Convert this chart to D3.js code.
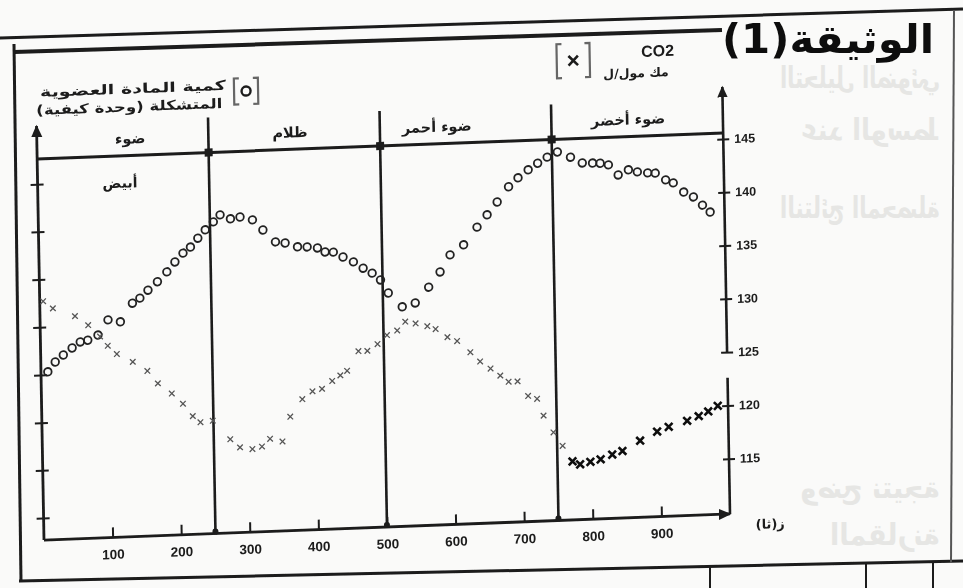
<!DOCTYPE html>
<html>
<head>
<meta charset="utf-8">
<script src="https://cdn.jsdelivr.net/npm/d3@7/dist/d3.min.js"></script>
<style>
  body { margin: 0; background: #fafaf9; }
  svg { display: block; }
</style>
</head>
<body>
<script>
var width = 963, height = 588;

// organic matter [o] : time (s) and amount (arbitrary unit)
var orgTime = [10, 21, 33, 46, 58, 69, 84, 99, 117, 135, 146, 158, 172, 186, 198, 210, 221, 232, 243, 255,
  265, 280, 294, 312, 327, 345, 359, 377, 391, 406, 417, 429, 443, 458, 472, 485, 497, 508, 528, 547,
  567, 584, 599, 619, 639, 654, 669, 686, 700, 715, 729, 743, 758, 777, 794, 809, 820, 832, 846, 861,
  874, 889, 900, 915, 926, 941, 955, 968, 979];
var orgValue = [4.06, 4.26, 4.40, 4.54, 4.66, 4.69, 4.79, 5.10, 5.05, 5.43, 5.53, 5.69, 5.86, 6.06, 6.26, 6.44, 6.56, 6.74, 6.91, 7.07,
  7.21, 7.12, 7.15, 7.08, 6.86, 6.60, 6.57, 6.48, 6.47, 6.44, 6.35, 6.34, 6.23, 6.12, 5.98, 5.87, 5.72, 5.44, 5.14, 5.21,
  5.53, 5.84, 6.19, 6.39, 6.75, 7.00, 7.26, 7.57, 7.75, 7.91, 8.04, 8.16, 8.26, 8.14, 8.01, 8.00, 7.99, 7.95, 7.73, 7.83,
  7.78, 7.75, 7.74, 7.59, 7.52, 7.32, 7.21, 7.03, 6.88];

// CO2 [x] : time (s) and concentration
var co2Time = [5, 19, 51, 70, 87, 98, 111, 134, 155, 170, 190, 206, 220, 231, 249, 274, 288, 306, 320, 332,
  350, 362, 380, 395, 409, 424, 436, 446, 463, 476, 491, 505, 520, 532, 547, 564, 576, 593, 607, 626,
  640, 655, 669, 681, 694, 709, 722, 731, 745, 758, 772, 783, 798, 813, 830, 845, 871, 896, 913, 940,
  957, 971, 985];
var co2Value = [132.2, 131.5, 130.7, 129.8, 128.7, 127.8, 127.0, 126.2, 125.3, 124.1, 123.1, 122.1, 120.9, 120.3, 120.4, 118.6, 117.8, 117.6, 117.8, 118.5,
  118.2, 120.5, 122.1, 122.8, 123.0, 123.7, 124.2, 124.6, 126.4, 126.4, 127.0, 127.8, 128.2, 129.0, 128.8, 128.5, 128.2, 127.4, 127.0, 125.9,
  125.0, 124.3, 123.6, 123.0, 123.0, 121.6, 121.3, 119.7, 118.1, 116.8, 115.3, 115.0, 115.2, 115.4, 115.8, 116.1, 117.0, 117.8, 118.2, 118.7,
  119.1, 119.5, 120.0];

var phaseEdges = [250, 500, 750];
var phaseLabels = ["ضوء", "ظلام", "ضوء أحمر", "ضوء أخضر"];
var phaseLabelTime = [136, 369, 583, 862];
var xTicks = [100, 200, 300, 400, 500, 600, 700, 800, 900];
var co2Ticks = [115, 120, 125, 130, 135, 140, 145];
var orgTicks = [1, 2, 3, 4, 5, 6, 7, 8];

var ink = "#1b1b1b";
var arabic = "'DejaVu Sans', sans-serif";
var latin = "'Liberation Sans', Arial, sans-serif";

var svg = d3.select("body").append("svg")
  .attr("width", width)
  .attr("height", height);

var defs = svg.append("defs");
defs.append("filter").attr("id", "scan")
  .append("feGaussianBlur").attr("stdDeviation", 0.45);

// bleed-through from the other side of the page
var ghost = svg.append("g").attr("fill", "#e6e6e4").attr("font-family", arabic)
  .attr("font-size", 30).attr("font-weight", "bold");
[["التحليل الضوئي", 780, 88], ["عند الوسط", 800, 140], ["النتائج المحصلة", 780, 218],
 ["وضح نتيجة", 800, 498], ["المقارنة", 830, 545]].forEach(function(g) {
  ghost.append("text")
    .attr("transform", "translate(" + g[1] + "," + g[2] + ") scale(-1,1)")
    .attr("text-anchor", "end")
    .attr("textLength", 940 - g[1])
    .attr("lengthAdjust", "spacingAndGlyphs")
    .text(g[0]);
});

var page = svg.append("g").attr("filter", "url(#scan)");

// document frame
page.append("path").attr("d", "M0,38 L963,9").attr("stroke", ink).attr("stroke-width", 3).attr("fill", "none");
page.append("path").attr("d", "M14,52 L722,30").attr("stroke", ink).attr("stroke-width", 4).attr("fill", "none");
page.append("path").attr("d", "M14,44 L21,581").attr("stroke", ink).attr("stroke-width", 3).attr("fill", "none");
page.append("path").attr("d", "M19,581 L963,561").attr("stroke", ink).attr("stroke-width", 3).attr("fill", "none");
page.append("path").attr("d", "M954,10 L951,563").attr("stroke", "#555").attr("stroke-width", 2).attr("fill", "none");
page.append("path").attr("d", "M710,566 L710,588 M866,563 L866,588 M933,562 L933,588")
  .attr("stroke", ink).attr("stroke-width", 2).attr("fill", "none");

page.append("text")
  .attr("x", 828).attr("y", 53)
  .attr("direction", "rtl")
  .attr("text-anchor", "middle")
  .attr("font-family", arabic).attr("font-weight", "bold").attr("font-size", 40)
  .attr("textLength", 212).attr("lengthAdjust", "spacingAndGlyphs")
  .attr("fill", "#111")
  .text("الوثيقة(1)");

// the chart itself, slightly skewed as on the scanned sheet
var chart = page.append("g")
  .attr("transform", "matrix(1,-0.038,0.018,1,-9.72,1.71)");

var xScale = d3.scaleLinear().domain([0, 1000]).range([44, 730]);
var orgScale = d3.scaleLinear().domain([0, 8]).range([565.7, 184.1]);
var co2Scale = d3.scaleLinear().domain([110, 145]).range([538, 165]);

var x0 = xScale(0), x1 = xScale(1000);
var yBase = 540, bandY = 159;

defs.append("marker").attr("id", "arrow")
  .attr("viewBox", "0 0 10 10").attr("refX", 8).attr("refY", 5)
  .attr("markerWidth", 5).attr("markerHeight", 5).attr("orient", "auto")
  .append("path").attr("d", "M0,1 L9,5 L0,9 Z").attr("fill", ink);

// phase separators
chart.selectAll(".sep").data(phaseEdges).enter().append("line")
  .attr("x1", function(d) { return xScale(d); })
  .attr("x2", function(d) { return xScale(d); })
  .attr("y1", 124).attr("y2", yBase)
  .attr("stroke", ink).attr("stroke-width", 2.6);

// header band
chart.append("line").attr("x1", x0).attr("x2", x1).attr("y1", bandY).attr("y2", bandY)
  .attr("stroke", ink).attr("stroke-width", 3);
chart.selectAll(".knot").data(phaseEdges).enter().append("rect")
  .attr("x", function(d) { return xScale(d) - 4; }).attr("y", bandY - 4)
  .attr("width", 8).attr("height", 8).attr("fill", ink);
chart.selectAll(".foot").data(phaseEdges).enter().append("circle")
  .attr("cx", function(d) { return xScale(d); }).attr("cy", yBase - 2)
  .attr("r", 3).attr("fill", ink);

chart.selectAll(".phase").data(phaseLabels).enter().append("text")
  .attr("x", function(d, i) { return xScale(phaseLabelTime[i]); })
  .attr("y", 147)
  .attr("direction", "rtl")
  .attr("text-anchor", "middle")
  .attr("font-family", arabic).attr("font-weight", "bold").attr("font-size", 14.5)
  .attr("fill", ink)
  .text(function(d) { return d; });
chart.append("text")
  .attr("x", xScale(120)).attr("y", 191)
  .attr("direction", "rtl").attr("text-anchor", "middle")
  .attr("font-family", arabic).attr("font-weight", "bold").attr("font-size", 14)
  .attr("fill", ink).text("أبيض");

// x axis
var xAxis = d3.axisBottom(xScale).tickValues(xTicks).tickSizeInner(-10).tickSizeOuter(0).tickPadding(12);
var gx = chart.append("g").attr("transform", "translate(0," + yBase + ")").call(xAxis);
gx.select(".domain").remove();
gx.selectAll(".tick line").attr("stroke", ink).attr("stroke-width", 2);
gx.selectAll(".tick text").attr("font-family", latin).attr("font-weight", "bold")
  .attr("font-size", 13.5).attr("fill", ink);
chart.append("line").attr("x1", x0).attr("x2", x1).attr("y1", yBase).attr("y2", yBase)
  .attr("stroke", ink).attr("stroke-width", 2.8).attr("marker-end", "url(#arrow)");
chart.append("text")
  .attr("x", x1 + 40).attr("y", yBase + 16)
  .attr("direction", "rtl").attr("text-anchor", "middle")
  .attr("font-family", arabic).attr("font-weight", "bold").attr("font-size", 13)
  .attr("fill", ink).text("ز(ثا)");

// left axis : organic matter
var yAxisL = d3.axisLeft(orgScale).tickValues(orgTicks).tickFormat("").tickSize(7);
var gl = chart.append("g").attr("transform", "translate(" + x0 + ",0)").call(yAxisL);
gl.select(".domain").remove();
gl.selectAll(".tick line").attr("x1", -7).attr("x2", 6).attr("stroke", ink).attr("stroke-width", 2);
chart.append("line").attr("x1", x0).attr("x2", x0).attr("y1", yBase).attr("y2", 126)
  .attr("stroke", ink).attr("stroke-width", 2.8).attr("marker-end", "url(#arrow)");

// right axis : CO2 (broken between 125 and 120)
var yAxisR = d3.axisRight(co2Scale).tickValues(co2Ticks).tickSize(6).tickPadding(5);
var gr = chart.append("g").attr("transform", "translate(" + x1 + ",0)").call(yAxisR);
gr.select(".domain").remove();
gr.selectAll(".tick line").attr("x1", -6).attr("x2", 6).attr("stroke", ink).attr("stroke-width", 2);
gr.selectAll(".tick text").attr("font-family", latin).attr("font-weight", "bold")
  .attr("font-size", 12.5).attr("fill", ink);
chart.append("line").attr("x1", x1).attr("x2", x1).attr("y1", co2Scale(125)).attr("y2", 113)
  .attr("stroke", ink).attr("stroke-width", 2.6).attr("marker-end", "url(#arrow)");
chart.append("line").attr("x1", x1).attr("x2", x1).attr("y1", co2Scale(122.6)).attr("y2", yBase)
  .attr("stroke", ink).attr("stroke-width", 2.6);

// axis titles and legend keys
chart.append("text").attr("x", 234).attr("y", 97)
  .attr("direction", "rtl").attr("text-anchor", "start")
  .attr("font-family", arabic).attr("font-weight", "bold").attr("font-size", 13.5)
  .attr("textLength", 186).attr("lengthAdjust", "spacingAndGlyphs")
  .attr("fill", ink).text("كمية المادة العضوية");
chart.append("text").attr("x", 230).attr("y", 115)
  .attr("direction", "rtl").attr("text-anchor", "start")
  .attr("font-family", arabic).attr("font-weight", "bold").attr("font-size", 13.5)
  .attr("textLength", 186).attr("lengthAdjust", "spacingAndGlyphs")
  .attr("fill", ink).text("المتشكلة (وحدة كيفية)");

function bracket(g, xa, xb, ya, yb) {
  g.append("path")
    .attr("d", "M" + (xa + 5) + "," + ya + " L" + xa + "," + ya + " L" + xa + "," + yb + " L" + (xa + 5) + "," + yb +
      " M" + (xb - 5) + "," + ya + " L" + xb + "," + ya + " L" + xb + "," + yb + " L" + (xb - 5) + "," + yb)
    .attr("fill", "none").attr("stroke", "#666").attr("stroke-width", 2.2);
}
bracket(chart, 242, 266, 86, 112);
chart.append("circle").attr("cx", 254).attr("cy", 99).attr("r", 4.5)
  .attr("fill", "none").attr("stroke", ink).attr("stroke-width", 2.4);
bracket(chart, 565, 598, 64, 98);
chart.append("path").attr("transform", "translate(581.5,81)")
  .attr("d", d3.symbol(d3.symbolX || d3.symbolCross, 60)())
  .attr("fill", "none").attr("stroke", ink).attr("stroke-width", 2.6);

chart.append("text").attr("x", 666).attr("y", 80)
  .attr("text-anchor", "middle")
  .attr("font-family", latin).attr("font-weight", "bold").attr("font-size", 16)
  .attr("fill", ink).text("CO2");
chart.append("text").attr("x", 644).attr("y", 100)
  .attr("direction", "rtl").attr("text-anchor", "middle")
  .attr("font-family", arabic).attr("font-weight", "bold").attr("font-size", 12.5)
  .attr("fill", ink).text("مك مول/ل");

// data : organic matter circles
var orgData = orgTime.map(function(t, i) { return { t: t, v: orgValue[i] }; });
chart.selectAll(".org").data(orgData).enter().append("circle")
  .attr("class", "org")
  .attr("cx", function(d) { return xScale(d.t); })
  .attr("cy", function(d) { return orgScale(d.v); })
  .attr("r", 3.8)
  .attr("fill", "none")
  .attr("stroke", "#222")
  .attr("stroke-width", 1.8);

// data : CO2 crosses
var co2Data = co2Time.map(function(t, i) { return { t: t, v: co2Value[i] }; });
var crossSym = d3.symbol(d3.symbolX || d3.symbolCross);
chart.selectAll(".co2").data(co2Data).enter().append("path")
  .attr("class", "co2")
  .attr("transform", function(d) { return "translate(" + xScale(d.t) + "," + co2Scale(d.v) + ")"; })
  .attr("d", function(d) { return crossSym.size(d.t > 760 ? 40 : 22)(); })
  .attr("fill", "none")
  .attr("stroke", function(d) { return d.t > 760 ? "#111" : "#555"; })
  .attr("stroke-width", function(d) { return d.t > 760 ? 2.6 : 1.3; });
</script>
</body>
</html>
